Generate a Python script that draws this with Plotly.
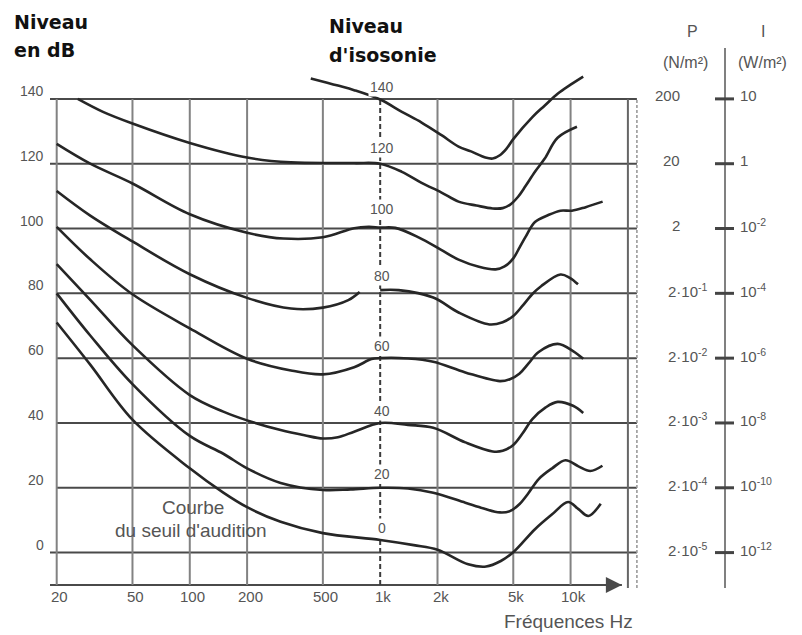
import numpy as np
import plotly.graph_objects as go

# ---------------------------------------------------------------- data
levels = [0, 20, 40, 60, 80, 100, 120, 140]
level_labels = ["0", "20", "40", "60", "80", "100", "120", "140"]

freq_ticks = [20, 50, 100, 200, 500, 1000, 2000, 5000, 10000]
freq_tick_labels = ["20", "50", "100", "200", "500", "1k", "2k", "5k", "10k"]

pressure_labels = ["2·10<sup>-5</sup>", "2·10<sup>-4</sup>", "2·10<sup>-3</sup>", "2·10<sup>-2</sup>",
                   "2·10<sup>-1</sup>", "2", "20", "200"]
intensity_labels = ["10<sup>-12</sup>", "10<sup>-10</sup>", "10<sup>-8</sup>", "10<sup>-6</sup>",
                    "10<sup>-4</sup>", "10<sup>-2</sup>", "1", "10"]

# equal-loudness contours: frequency (Hz) and sound level (dB)
f_0 = [20, 30, 50, 100, 150, 200, 300, 500, 1000, 1500, 2000, 2900, 3600, 4300, 5000,
       6500, 8000, 9700, 11000, 12400, 14400]
db_0 = [71.0, 58.0, 41.0, 26.0, 18.5, 14.0, 9.5, 6.0, 3.9, 2.3, 0.9, -3.6, -4.3, -2.6, 0.1,
        7.2, 11.8, 15.6, 13.4, 11.3, 15.1]

f_20 = [20, 30, 50, 100, 150, 200, 300, 500, 700, 1000, 1400, 1900, 2800, 3500, 4250, 4800,
        5400, 6000, 6800, 8000, 9400, 11000, 12700, 14700]
db_20 = [80.0, 67.0, 52.0, 36.0, 30.5, 26.0, 21.5, 19.3, 19.5, 20.0, 19.8, 18.5, 15.4, 13.6, 12.4, 12.8,
         15.0, 18.3, 22.7, 26.0, 28.5, 26.6, 25.2, 26.8]

f_40 = [20, 30, 50, 100, 150, 200, 300, 400, 500, 600, 730, 1000, 1400, 1900, 2800, 3900, 4400,
        5000, 5600, 6300, 7400, 8550, 10300, 11650]
db_40 = [89.0, 78.0, 64.0, 48.6, 43.5, 40.8, 37.8, 36.2, 35.2, 35.6, 37.3, 40.0, 39.4, 38.5, 34.0, 31.2, 31.4,
         33.2, 36.8, 41.2, 44.8, 46.5, 45.3, 43.1]

f_60 = [20, 30, 50, 100, 200, 340, 500, 730, 900, 1000, 1400, 1900, 2800, 4250, 4800, 5400, 6000,
        6800, 8550, 10300, 11650]
db_60 = [100.5, 90.5, 79.7, 69.2, 59.8, 56.2, 55.0, 57.2, 59.7, 60.0, 59.9, 58.9, 55.6, 52.9, 53.5, 55.3, 58.3,
         61.9, 64.4, 62.2, 59.8]

f_80_low = [20, 30, 50, 100, 200, 340, 500, 680, 780]
db_80_low = [111.6, 104.0, 96.0, 85.9, 78.6, 75.3, 75.6, 77.9, 80.4]
f_80_high = [1000, 1250, 1900, 2580, 3750, 4400, 5000, 5600, 6300, 7000, 8850, 9900, 10940]
db_80_high = [81.0, 81.0, 78.7, 74.1, 70.4, 71.1, 73.0, 76.2, 79.8, 82.2, 85.8, 84.8, 82.8]

f_100 = [20, 30, 50, 100, 200, 310, 500, 730, 870, 1000, 1200, 1600, 2080, 2580, 3300, 4040, 4500,
         5000, 5400, 5800, 6500, 7600, 8850, 10160, 12000, 14730]
db_100 = [126.1, 120.0, 113.9, 104.4, 98.7, 96.9, 97.3, 100.1, 100.5, 100.3, 100.2, 97.2, 93.5, 90.4,
          88.2, 87.4, 88.3, 90.8, 94.2, 97.4, 102.0, 104.1, 105.5, 105.5, 106.6, 108.3]

f_120 = [25.8, 35, 50, 100, 200, 340, 730, 1000, 1300, 1650, 2100, 2580, 3200, 3900, 4400, 4800,
         5300, 5800, 6500, 7300, 8550, 10800]
db_120 = [140.0, 136.0, 132.4, 126.4, 121.9, 120.4, 120.2, 120.0, 117.5, 114.1, 111.1, 108.3, 107.1,
          106.2, 106.3, 107.3, 109.8, 113.1, 117.5, 121.5, 128.0, 131.4]

f_140 = [432, 600, 730, 1000, 1300, 1650, 2100, 2580, 3000, 3570, 3900, 4250, 4600, 5000, 6300, 7300,
         8550, 10000, 11650]
db_140 = [146.3, 144.1, 142.7, 139.8, 136.0, 132.7, 128.8, 125.3, 123.8, 121.9, 121.6, 122.6, 124.6, 127.6,
          134.4, 137.9, 141.6, 144.4, 146.9]

contours = [(f_0, db_0), (f_20, db_20), (f_40, db_40), (f_60, db_60),
            (f_80_low, db_80_low), (f_80_high, db_80_high),
            (f_100, db_100), (f_120, db_120), (f_140, db_140)]

# ---------------------------------------------------------------- geometry
FIG_W, FIG_H = 802, 635
L, R, T, B = 50, 150, 60, 40
W = FIG_W - L - R
H = FIG_H - T - B
PX_DEC = 190.4          # pixels per decade of frequency
PX_DB = 3.2407          # pixels per dB
XMIN = np.log10(20) - 6.7 / PX_DEC
XMAX = XMIN + W / PX_DEC
YMIN = -10 - 10 / PX_DB
YMAX = YMIN + H / PX_DB

F_STUB, F_INNER, F_OUTER, F_ARROW = 18.4, 20000, 22300, 18600


def xp(px):
    return (px - L) / W


def yp(py):
    return (FIG_H - B - py) / H


def yd(db):
    return (db - YMIN) / (YMAX - YMIN)


GRAY = "#555555"
TXT = "Liberation Sans, Arial, sans-serif"
BOLD = "DejaVu Sans, Verdana, sans-serif"

fig = go.Figure()


def seg(x, y, line):
    fig.add_trace(go.Scatter(x=x, y=y, mode="lines", line=line,
                             hoverinfo="skip", showlegend=False))


# horizontal grid
H_LINE = dict(color="#4a4a4a", width=2)
for lv in levels:
    x0 = F_STUB if lv in (0, 120, 140) else 20
    seg([x0, F_OUTER], [lv, lv], H_LINE)
seg([F_STUB, F_ARROW], [-10, -10], H_LINE)

# vertical grid
V_LINE = dict(color="#828282", width=2)
for f in freq_ticks:
    if f == 1000:
        seg([f, f], [-10, 140], dict(color="#3c3c3c", width=2, dash="5px,3px"))
    else:
        seg([f, f], [-10, 140], V_LINE)
seg([F_INNER, F_INNER], [-10.9, 140], dict(color="#666666", width=2))
seg([F_OUTER, F_OUTER], [-10.9, 140], dict(color="#9a9a9a", width=1.6, dash="3px,2px"))

# contours
for fx, dbs in contours:
    seg(fx, dbs, dict(color="#262626", width=2.6, shape="spline", smoothing=1.0))

ann = []
# left level labels
for lv, txt in zip(levels, level_labels):
    ann.append(dict(x=xp(46), xref="paper", y=lv, yref="y", text=txt, showarrow=False,
                    xanchor="right", yanchor="middle", yshift=8,
                    font=dict(family=TXT, size=14, color=GRAY)))
# frequency labels
for f, txt in zip(freq_ticks, freq_tick_labels):
    ann.append(dict(x=np.log10(f), xref="x", y=-10, yref="y", text=txt, showarrow=False,
                    xanchor="center", yanchor="middle", yshift=-11, xshift=3,
                    font=dict(family=TXT, size=15, color=GRAY)))
# loudness level labels along the 1 kHz line
lift = {0: 25, 20: 14, 40: 12, 60: 12, 80: 17, 100: 20, 120: 16, 140: 12}
for lv, txt in zip(levels, level_labels):
    ann.append(dict(x=3, xref="x", y=lv, yref="y", text=txt, showarrow=False,
                    xanchor="center", yanchor="middle", yshift=lift[lv], xshift=2,
                    bgcolor="white", borderpad=1,
                    font=dict(family=TXT, size=14, color=GRAY)))
# pressure / intensity scale
for lv, p_txt, i_txt in zip(levels, pressure_labels, intensity_labels):
    if "·" in p_txt:
        ann.append(dict(x=xp(666), xref="paper", y=lv, yref="y", text=p_txt, showarrow=False,
                        xanchor="left", yanchor="middle", yshift=3,
                        font=dict(family=TXT, size=15, color=GRAY)))
    else:
        ann.append(dict(x=xp(682), xref="paper", y=lv, yref="y", text=p_txt, showarrow=False,
                        xanchor="right", yanchor="middle", yshift=3,
                        font=dict(family=TXT, size=15, color=GRAY)))
    ann.append(dict(x=xp(738), xref="paper", y=lv, yref="y", text=i_txt, showarrow=False,
                    xanchor="left", yanchor="middle", yshift=3,
                    font=dict(family=TXT, size=15, color=GRAY)))

for txt, x, y in [("P", 692, 31), ("I", 763, 31), ("(N/m²)", 685, 62), ("(W/m²)", 762, 62)]:
    ann.append(dict(x=xp(x), xref="paper", y=yp(y), yref="paper", text=txt, showarrow=False,
                    xanchor="center", yanchor="middle",
                    font=dict(family=TXT, size=16, color=GRAY)))

# titles
for txt, x, y in [("Niveau", 12, 21.5), ("en dB", 12, 50), ("Niveau", 327, 26), ("d'isosonie", 327, 55)]:
    ann.append(dict(x=xp(x), xref="paper", y=yp(y), yref="paper", text="<b>" + txt + "</b>",
                    showarrow=False, xanchor="left", yanchor="middle",
                    font=dict(family=BOLD, size=19, color="#111111")))

# curve caption and axis name
for txt, x, y in [("Courbe", 193, 507), ("du seuil d'audition", 191, 530), ("Fréquences Hz", 568, 621)]:
    ann.append(dict(x=xp(x), xref="paper", y=yp(y), yref="paper", text=txt, showarrow=False,
                    xanchor="center", yanchor="middle",
                    font=dict(family=TXT, size=19, color=GRAY)))

# arrow head on the frequency axis
ann.append(dict(x=np.log10(F_ARROW), xref="x", y=-10, yref="y", text="", showarrow=True,
                ax=-22, ay=0, axref="pixel", ayref="pixel",
                arrowhead=2, arrowsize=1.6, arrowwidth=2, arrowcolor="#4a4a4a"))

# right-hand scale axis and ticks
shapes = [dict(type="line", xref="paper", yref="paper", x0=xp(725), x1=xp(725),
               y0=yp(48), y1=yp(588), line=dict(color="#808080", width=2))]
for lv in levels:
    shapes.append(dict(type="line", xref="paper", yref="paper", x0=xp(715), x1=xp(734),
                       y0=yd(lv), y1=yd(lv), line=dict(color="#444444", width=3)))

fig.update_layout(
    width=FIG_W, height=FIG_H,
    margin=dict(l=L, r=R, t=T, b=B, pad=0, autoexpand=False),
    paper_bgcolor="white", plot_bgcolor="white",
    showlegend=False,
    xaxis=dict(type="log", range=[XMIN, XMAX], visible=False, showgrid=False, zeroline=False),
    yaxis=dict(range=[YMIN, YMAX], visible=False, showgrid=False, zeroline=False),
    annotations=ann,
    shapes=shapes,
)

fig.write_html("out.html")
